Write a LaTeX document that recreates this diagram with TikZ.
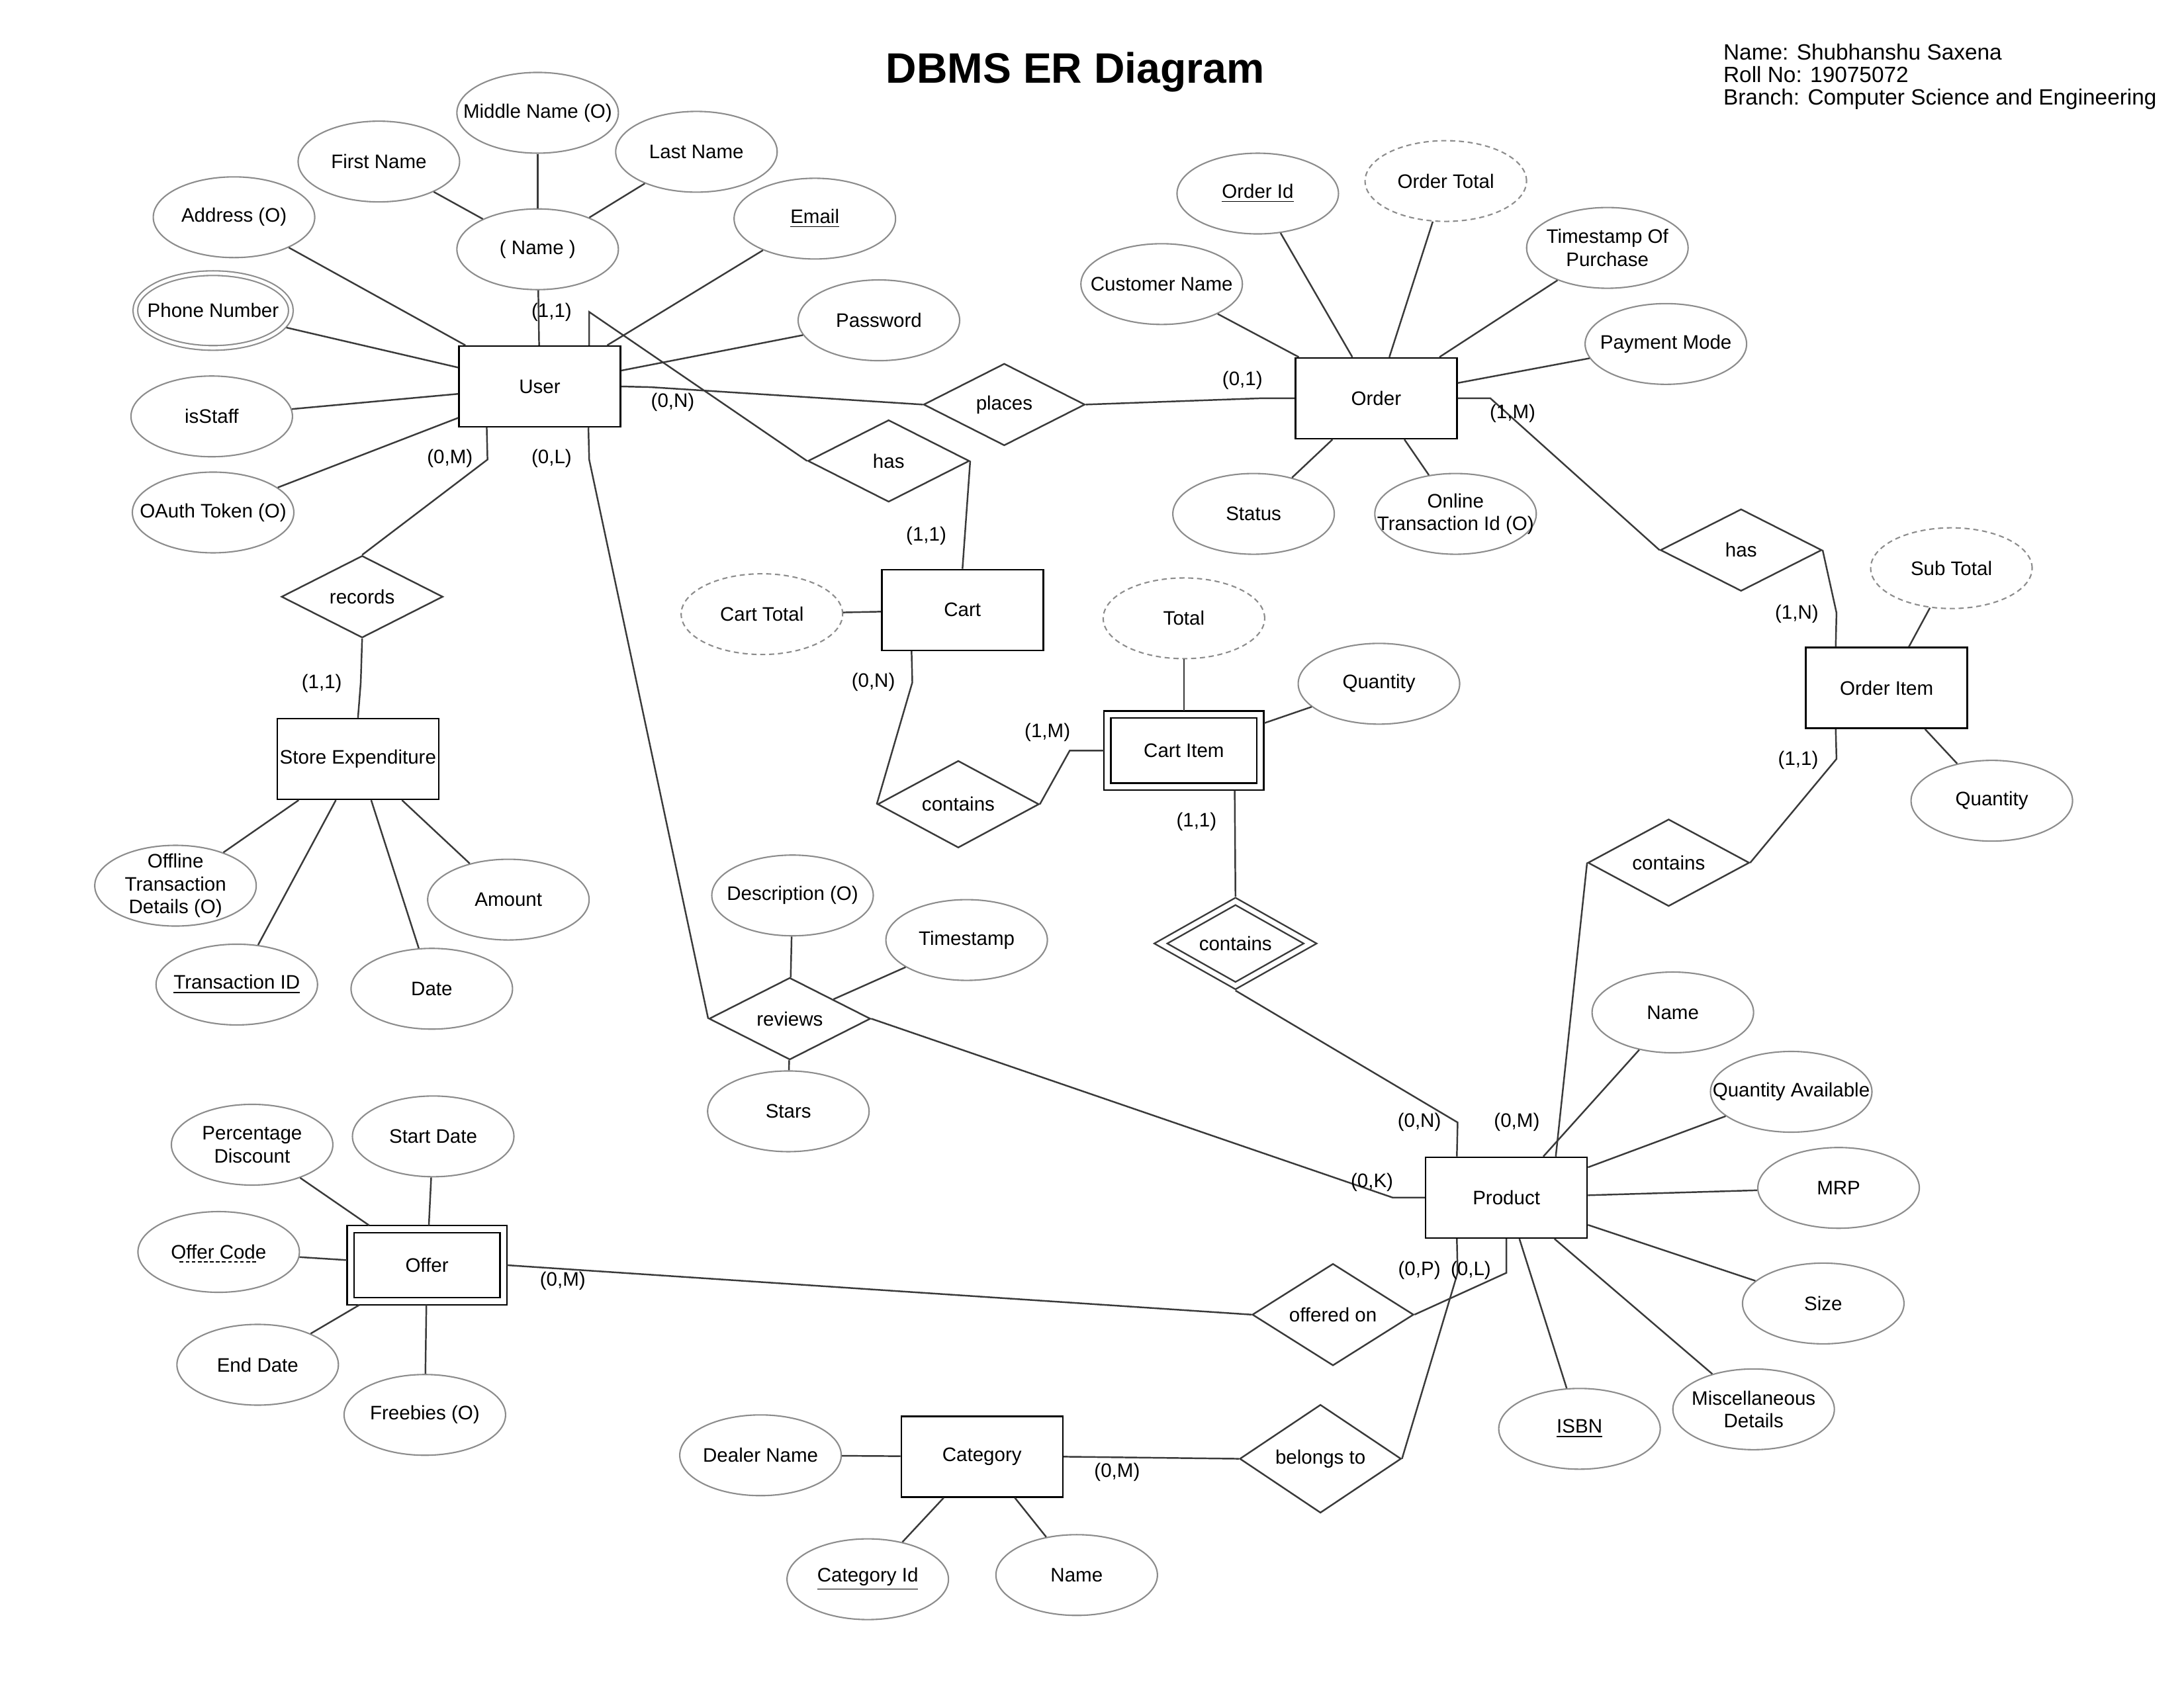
\documentclass[tikz,border=0pt]{standalone}
\usepackage{fontspec}
\setmainfont{Liberation Sans}
\usetikzlibrary{shapes.geometric,calc}
\definecolor{ellc}{HTML}{8C8C8C}
\definecolor{linec}{HTML}{3A3A3A}
\begin{document}
\begin{tikzpicture}[x=0.21046mm,y=-0.21046mm,
 every node/.style={font=\fontsize{8.4}{9.8}\selectfont, text=black},
 ent/.style={draw=black, line width=0.7pt, fill=white, minimum width=2.44cm, minimum height=1.22cm, inner sep=0pt},
 went/.style={ent, double, double distance=2.3pt, minimum width=2.31cm, minimum height=1.09cm, outer sep=1.6pt},
 attrshape/.style={ellipse, draw=ellc, line width=0.6pt, fill=white, minimum width=2.44cm, minimum height=1.22cm, inner sep=0pt},
 attr/.style={attrshape, label={[align=center, inner sep=0pt]center:#1}},
 dattr/.style={attr=#1, dash pattern=on 2.2pt off 1.6pt},
 mattr/.style={attr=#1, double, double distance=1.4pt, minimum width=2.35cm, minimum height=1.13cm, outer sep=1.3pt},
 rel/.style={diamond, draw=linec, line width=0.7pt, fill=white, minimum width=2.44cm, minimum height=1.24cm, inner sep=0pt},
 wrel/.style={rel, double, double distance=2pt, minimum width=2.3cm, minimum height=1.1cm, outer sep=1.5pt},
 conn/.style={draw=linec, line width=0.7pt},
 card/.style={inner sep=0pt},
]
\useasboundingbox (0,0) rectangle (1568,1212);

% title and info
\node[font=\bfseries\fontsize{18.3}{20}\selectfont] (title) at (772,52) {DBMS ER Diagram};
\node[anchor=north west, align=left, inner sep=0pt, font=\fontsize{9.5}{9.7}\selectfont] (info) at (1237,31)
  {Name: Shubhanshu Saxena\\Roll No: 19075072\\Branch: Computer Science and Engineering};

% entities
\node[ent] (User) at (387.5,277.5) {User};
\node[ent] (Order) at (988,286) {Order};
\node[ent] (Cart) at (691,438) {Cart};
\node[went] (CartItem) at (850,539) {Cart Item};
\node[ent] (OrderItem) at (1354.5,494) {Order Item};
\node[ent] (StoreExp) at (257,545) {Store Expenditure};
\node[ent] (Product) at (1081.5,860) {Product};
\node[went] (Offer) at (306.5,908.5) {Offer};
\node[ent] (Category) at (705,1046) {Category};

% relationships
\node[rel] (places) at (721,290.5) {places};
\node[rel] (hasCart) at (638,331) {has};
\node[rel] (hasItem) at (1250,395) {has};
\node[rel] (records) at (260,428.5) {records};
\node[rel] (containsCI) at (688,577.5) {contains};
\node[wrel] (containsP) at (887,677.5) {contains};
\node[rel] (containsOI) at (1198,619.5) {contains};
\node[rel] (reviews) at (567,731.5) {reviews};
\node[rel] (offeredOn) at (957,944) {offered on};
\node[rel] (belongsTo) at (948,1047.5) {belongs to};

% user attributes
\node[attr={Middle Name (O)}] (MidName) at (386,81) {};
\node[attr={First Name}] (FirstName) at (272,116) {};
\node[attr={Last Name}] (LastName) at (500,109) {};
\node[attr={( Name )}] (NameC) at (386,179) {};
\node[attr={Address (O)}] (Address) at (168,156) {};
\node[attr={\underline{Email}}] (Email) at (585,157) {};
\node[mattr={Phone Number}] (Phone) at (153,223) {};
\node[attr={Password}] (Password) at (631,230) {};
\node[attr={isStaff}] (isStaff) at (152,299) {};
\node[attr={OAuth Token (O)}] (OAuth) at (153,368) {};

% order attributes
\node[attr={\underline{Order Id}}] (OrderId) at (903,139) {};
\node[dattr={Order Total}] (OrderTotal) at (1038,130) {};
\node[attr={Customer Name}] (CustName) at (834,204) {};
\node[attr={Timestamp Of\\Purchase}] (TsPurchase) at (1154,178) {};
\node[attr={Payment Mode}] (PayMode) at (1196,247) {};
\node[attr={Status}] (Status) at (900,369) {};
\node[attr={Online\\Transaction Id (O)}] (OnlineTx) at (1045,369) {};

% order item attributes
\node[dattr={Sub Total}] (SubTotal) at (1401,408) {};
\node[attr={Quantity}] (OIQty) at (1430,575) {};

% cart / cart item attributes
\node[dattr={Cart Total}] (CartTotal) at (547,441) {};
\node[dattr={Total}] (CITotal) at (850,444) {};
\node[attr={Quantity}] (CIQty) at (990,491) {};

% store expenditure attributes
\node[attr={Offline\\Transaction\\Details (O)}] (Offline) at (126,636) {};
\node[attr={Amount}] (Amount) at (365,646) {};
\node[attr={\underline{Transaction ID}}] (TxId) at (170,707) {};
\node[attr={Date}] (Date) at (310,710) {};

% review attributes
\node[attr={Description (O)}] (Desc) at (569,643) {};
\node[attr={Timestamp}] (RevTs) at (694,675) {};
\node[attr={Stars}] (Stars) at (566,798) {};

% product attributes
\node[attr={Name}] (PName) at (1201,727) {};
\node[attr={Quantity Available}] (QtyAvail) at (1286,784) {};
\node[attr={MRP}] (MRP) at (1320,853) {};
\node[attr={Size}] (Size) at (1309,936) {};
\node[attr={Miscellaneous\\Details}] (Misc) at (1259,1012) {};
\node[attr={\underline{ISBN}}] (ISBN) at (1134,1026) {};

% offer attributes
\node[attr={Percentage\\Discount}] (PctDisc) at (181,822) {};
\node[attr={Start Date}] (StartDate) at (311,816) {};
\node[attr={Offer Code}] (OfferCode) at (157,899) {};
\draw[line width=0.6pt, dash pattern=on 1.6pt off 1pt] ($(OfferCode.center)+(-28,7)$) -- ($(OfferCode.center)+(28,7)$);
\node[attr={End Date}] (EndDate) at (185,980) {};
\node[attr={Freebies (O)}] (Freebies) at (305,1016) {};

% category attributes
\node[attr={Dealer Name}] (Dealer) at (546,1045) {};
\node[attr={\underline{Category Id}}] (CatId) at (623,1134) {};
\node[attr={Name}] (CatName) at (773,1131) {};

% attribute connectors
\foreach \a/\b in {MidName/NameC, FirstName/NameC, LastName/NameC, NameC/User, Address/User, Email/User,
  Phone/User, Password/User, isStaff/User, OAuth/User,
  OrderId/Order, OrderTotal/Order, CustName/Order, TsPurchase/Order, PayMode/Order, Status/Order, OnlineTx/Order,
  SubTotal/OrderItem, OIQty/OrderItem, CartTotal/Cart, CITotal/CartItem, CIQty/CartItem,
  Offline/StoreExp, Amount/StoreExp, TxId/StoreExp, Date/StoreExp,
  Desc/reviews, RevTs/reviews, Stars/reviews,
  PName/Product, QtyAvail/Product, MRP/Product, Size/Product, Misc/Product, ISBN/Product,
  PctDisc/Offer, StartDate/Offer, OfferCode/Offer, EndDate/Offer, Freebies/Offer,
  Dealer/Category, CatId/Category, CatName/Category}
  {\draw[conn] (\a) -- (\b);}

% relationship connectors
\draw[conn] ($(User.north)+(35.5,0)$) -- (423,224) -- (hasCart.west);
\draw[conn] (hasCart.east) -- (Cart.north);
\draw[conn] (User.east) -- (467,278) -- (places.west);
\draw[conn] (places.east) -- (905,286) -- (Order.west);
\draw[conn] ($(User.south west)+(20.5,0)$) -- (350,330) -- (records.north);
\draw[conn] (records.south) -- (259,490) -- (StoreExp.north);
\draw[conn] ($(User.south west)+(93.5,0)$) -- (423,330) -- (reviews.west);
\draw[conn] (Order.east) -- (1070,286) -- (hasItem.west);
\draw[conn] (hasItem.east) -- (1318.5,440) -- ($(OrderItem.north west)+(22,0)$);
\draw[conn] ($(OrderItem.south west)+(22,0)$) -- (1318.5,545) -- (containsOI.east);
\draw[conn] (containsOI.west) -- ($(Product.north west)+(94,0)$);
\draw[conn] ($(Cart.south west)+(22,0)$) -- (655,490) -- (containsCI.west);
\draw[conn] (containsCI.east) -- (768,539) -- (CartItem.west);
\draw[conn] ($(CartItem.south west)+(94,0)$) -- (containsP.north);
\draw[conn] (containsP.south) -- (1046.5,806) -- ($(Product.north west)+(23,0)$);
\draw[conn] (reviews.east) -- (1000,860) -- (Product.west);
\draw[conn] (Offer.east) -- (offeredOn.west);
\draw[conn] (offeredOn.east) -- (1081.5,914) -- (Product.south);
\draw[conn] (belongsTo.east) -- (1046.5,914) -- ($(Product.south west)+(23,0)$);
\draw[conn] (Category.east) -- (belongsTo.west);

% cardinalities
\node[card] (k1) at (396,224) {(1,1)};
\node[card] (k2) at (483,289) {(0,N)};
\node[card] (k3) at (323,329) {(0,M)};
\node[card] (k4) at (396,329) {(0,L)};
\node[card] (k5) at (892,273) {(0,1)};
\node[card] (k6) at (1086,297) {(1,M)};
\node[card] (k7) at (665,385) {(1,1)};
\node[card] (k8) at (1290,441) {(1,N)};
\node[card] (k9) at (1291,546) {(1,1)};
\node[card] (k10) at (627,490) {(0,N)};
\node[card] (k11) at (752,526) {(1,M)};
\node[card] (k12) at (859,590) {(1,1)};
\node[card] (k13) at (231,491) {(1,1)};
\node[card] (k14) at (1019,806) {(0,N)};
\node[card] (k15) at (1089,806) {(0,M)};
\node[card] (k16) at (985,849) {(0,K)};
\node[card] (k17) at (1019,912) {(0,P)};
\node[card] (k18) at (1056,912) {(0,L)};
\node[card] (k19) at (404,920) {(0,M)};
\node[card] (k20) at (802,1057) {(0,M)};
\end{tikzpicture}
\end{document}
